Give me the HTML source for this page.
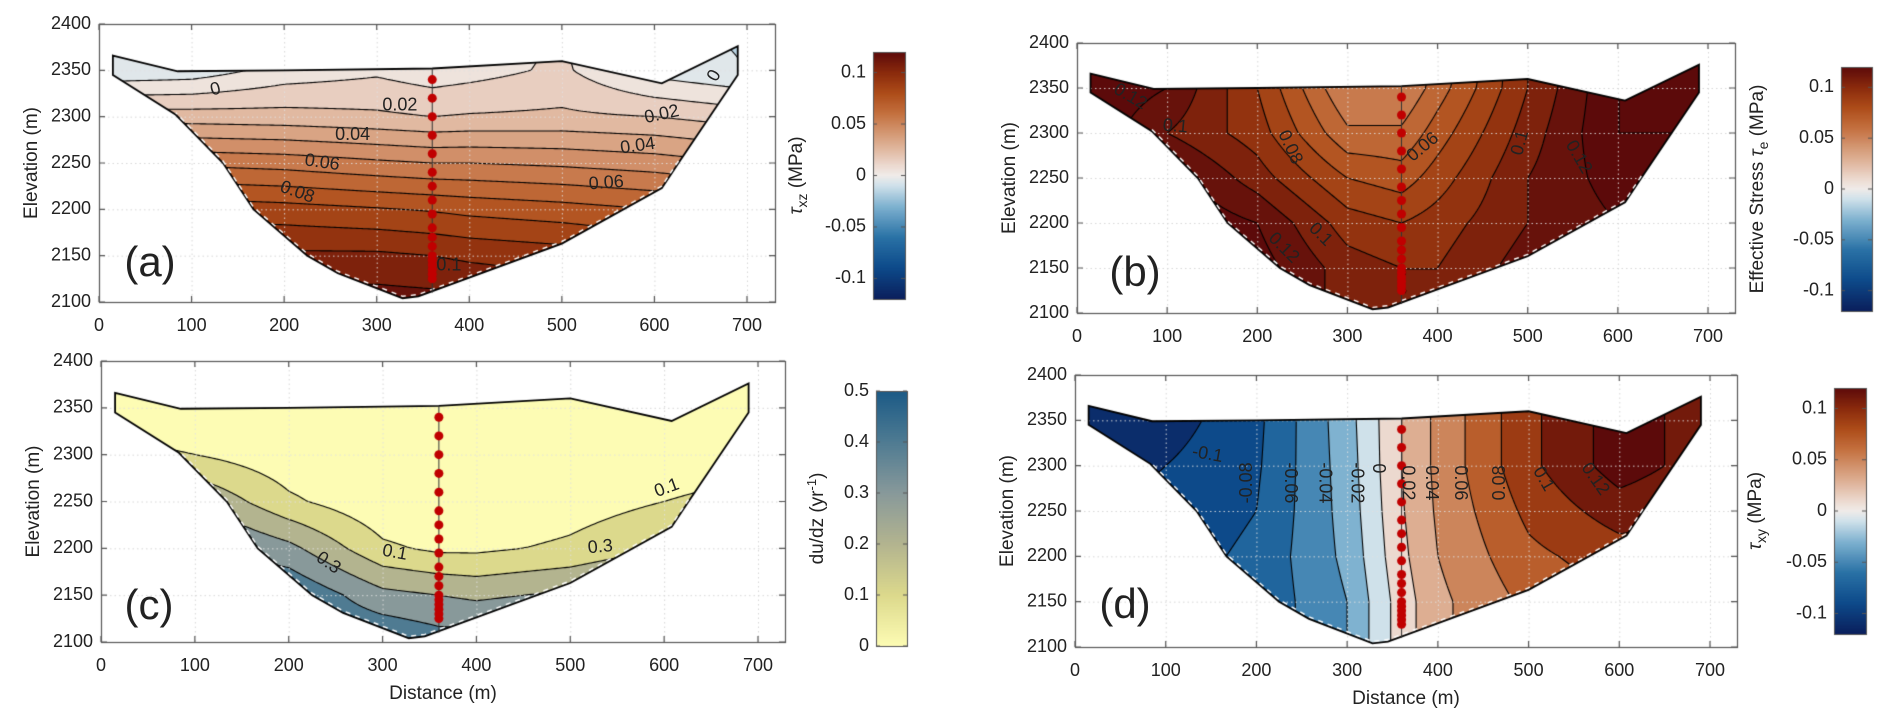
<!DOCTYPE html>
<html><head><meta charset="utf-8"><style>
html,body{margin:0;padding:0;background:#fff;}
#wrap{position:relative;width:1892px;height:723px;overflow:hidden;}
canvas,svg{position:absolute;left:0;top:0;}
text{font-family:"Liberation Sans",sans-serif;fill:#222;}
</style></head><body>
<div id="wrap">
<canvas id="cv" width="1892" height="723"></canvas>
<svg id="sv" width="1892" height="723"></svg>
</div>
<script>
// ---------- data ----------
const gridX = [0,100,200,300,360,400,500,600,700];
const gridZ = [2100,2150,2200,2250,2300,2350,2400];
const tauXZ = [
 [0.115,0.115,0.115,0.115,0.114,0.112,0.108,0.105,0.1],
 [0.102,0.102,0.102,0.102,0.1,0.098,0.095,0.09,0.085],
 [0.086,0.086,0.084,0.081,0.079,0.077,0.074,0.07,0.065],
 [0.06,0.058,0.056,0.052,0.05,0.05,0.048,0.045,0.04],
 [0.025,0.025,0.024,0.022,0.02,0.021,0.022,0.02,0.015],
 [-0.008,-0.006,0.004,0.008,0.004,0.006,0.012,-0.004,-0.01],
 [-0.01,-0.01,-0.005,0.005,0.002,0.004,0.01,-0.008,-0.012]];
const effStress = [
 [0.13,0.13,0.125,0.105,0.1,0.1,0.115,0.12,0.12],
 [0.13,0.13,0.125,0.105,0.1,0.1,0.115,0.12,0.12],
 [0.13,0.13,0.12,0.095,0.09,0.095,0.11,0.12,0.12],
 [0.13,0.125,0.105,0.08,0.075,0.085,0.11,0.125,0.13],
 [0.13,0.11,0.095,0.062,0.062,0.075,0.105,0.13,0.13],
 [0.13,0.12,0.09,0.05,0.05,0.065,0.1,0.13,0.13],
 [0.13,0.12,0.09,0.05,0.05,0.06,0.1,0.13,0.13]];
const dudz = [
 [0.5,0.5,0.5,0.5,0.45,0.45,0.47,0.5,0.5],
 [0.5,0.5,0.5,0.33,0.3,0.28,0.32,0.4,0.4],
 [0.4,0.45,0.33,0.12,0.08,0.08,0.12,0.2,0.3],
 [0.3,0.3,0.12,0.02,0,0,0.05,0.1,0.15],
 [0.15,0.1,0.03,0,0,0,0,0.02,0.05],
 [0,0,0,0,0,0,0,0,0],
 [0,0,0,0,0,0,0,0,0]];
const tauXY = [
 [-0.09,-0.09,-0.075,-0.04,0.01,0.035,0.065,0.08,0.08],
 [-0.09,-0.09,-0.075,-0.04,0.01,0.035,0.065,0.08,0.08],
 [-0.09,-0.09,-0.075,-0.035,0.015,0.04,0.075,0.09,0.09],
 [-0.1,-0.095,-0.08,-0.032,0.018,0.043,0.085,0.11,0.1],
 [-0.11,-0.1,-0.083,-0.03,0.02,0.045,0.095,0.13,0.11],
 [-0.12,-0.11,-0.085,-0.028,0.02,0.045,0.095,0.13,0.11],
 [-0.12,-0.11,-0.085,-0.028,0.02,0.045,0.095,0.13,0.11]];
const surfaceX = [15,85,200,360,500,608,690];
const surfaceZ = [2366,2349,2350,2352,2360,2336,2376];
const bedX = [690,626,608,500,345,328,258,225,167,134,83,15];
const bedZ = [2345,2250,2223,2163,2106,2104,2131,2150,2200,2250,2302,2345];
const boreholeX = 360;
const sensorZ = [2340,2320,2300,2280,2260,2240,2225,2210,2195,2180,2170,2160,2150,2145,2140,2135,2130,2125];
const xTicks = [0,100,200,300,400,500,600,700];
const yTicks = [2100,2150,2200,2250,2300,2350,2400];
const divTicks = [-0.1,-0.05,0,0.05,0.1];
const divTickLabels = ['-0.1','-0.05','0','0.05','0.1'];
const seqTicks = [0,0.1,0.2,0.3,0.4,0.5];
const seqTickLabels = ['0','0.1','0.2','0.3','0.4','0.5'];
const labelsA = [['0',126,2329,-15],['0.02',325,2312,0],['0.04',274,2280,0],['0.06',241,2250,8],['0.08',214,2218,20],['0.1',378,2139,0],['0.02',608,2302,-12],['0.04',582,2268,-8],['0.06',548,2228,-4],['0',665,2344,-60]];
const labelsB = [['0.12',59,2340,30],['0.1',109,2307,5],['0.08',236,2284,65],['0.06',384,2284,-40],['0.1',270,2187,45],['0.12',229,2172,45],['0.1',492,2289,-75],['0.12',556,2273,60]];
const labelsC = [['0.1',313,2195,10],['0.3',242,2184,35],['0.1',603,2264,-20],['0.3',532,2201,-5]];
const labelsD = [['-0.1',146,2312,10],['-0.08',190,2281,-90],['-0.06',237,2281,90],['-0.04',275,2281,90],['-0.02',310,2281,90],['0',334,2297,90],['0.02',366,2281,90],['0.04',392,2281,90],['0.06',424,2281,90],['0.08',469,2281,-90],['0.1',516,2285,60],['0.12',573,2285,55]];

// ---------- colormaps ----------
const divStops=[[-0.12,'#0a1f5c'],[-0.09,'#0d4a8a'],[-0.06,'#2a72a6'],[-0.03,'#7fb2d0'],[-0.01,'#cfe1ea'],[0,'#f0ece9'],[0.01,'#ecd9cf'],[0.03,'#ddae92'],[0.06,'#c4703f'],[0.08,'#ad4c19'],[0.1,'#8a2a0c'],[0.12,'#5c0a0a']];
const seqStops=[[0,'#fdfcb4'],[0.1,'#dcd98c'],[0.2,'#b3b48f'],[0.3,'#88999a'],[0.4,'#4f7b92'],[0.5,'#1b5a86']];
function hex(h){return [parseInt(h.substr(1,2),16),parseInt(h.substr(3,2),16),parseInt(h.substr(5,2),16)];}
function cmap(stops,v){
  if(v<=stops[0][0])return hex(stops[0][1]);
  for(let i=1;i<stops.length;i++){if(v<=stops[i][0]){const a=stops[i-1],b=stops[i];const t=(v-a[0])/(b[0]-a[0]);const ca=hex(a[1]),cb=hex(b[1]);return ca.map((c,k)=>Math.round(c+(cb[k]-c)*t));}}
  return hex(stops[stops.length-1][1]);
}
function interp(grid,x,z){
  let i=0;while(i<gridX.length-2&&x>gridX[i+1])i++;
  let j=0;while(j<gridZ.length-2&&z>gridZ[j+1])j++;
  let tx=(x-gridX[i])/(gridX[i+1]-gridX[i]);tx=Math.max(0,Math.min(1,tx));
  let tz=(z-gridZ[j])/(gridZ[j+1]-gridZ[j]);tz=Math.max(0,Math.min(1,tz));
  const a=grid[j][i],b=grid[j][i+1],c=grid[j+1][i],d=grid[j+1][i+1];
  return (a*(1-tx)+b*tx)*(1-tz)+(c*(1-tx)+d*tx)*tz;
}

// ---------- panels ----------
const panels=[
 {id:'a',L:99,R:775,T:24,B:302,sx:(747-99)/700,grid:tauXZ,stops:divStops,step:0.01,lvMin:-0.02,lvMax:0.13,mid:true,labels:labelsA,
  cb:{L:873,R:905,T:52,B:299,min:-0.12,max:0.12,ticks:divTicks,tl:divTickLabels,title:'xz',titleX:802,kind:'tau'},letter:'(a)',lx:150,ly:265,xlabel:false},
 {id:'b',L:1077,R:1735,T:43,B:313,sx:(1708-1077)/700,grid:effStress,stops:divStops,step:0.01,lvMin:0.04,lvMax:0.14,mid:true,labels:labelsB,
  cb:{L:1841,R:1872,T:67,B:311,min:-0.12,max:0.12,ticks:divTicks,tl:divTickLabels,title:'eff',titleX:1763,kind:'eff'},letter:'(b)',lx:1135,ly:275,xlabel:false},
 {id:'c',L:101,R:785,T:361,B:642,sx:(758-101)/700,grid:dudz,stops:seqStops,step:0.1,lvMin:0.1,lvMax:0.5,mid:false,labels:labelsC,
  cb:{L:876,R:907,T:391,B:646,min:0,max:0.5,ticks:seqTicks,tl:seqTickLabels,title:'du',titleX:823,kind:'du'},letter:'(c)',lx:149,ly:608,xlabel:true},
 {id:'d',L:1075,R:1737,T:375,B:647,sx:(1710-1075)/700,grid:tauXY,stops:divStops,step:0.02,lvMin:-0.12,lvMax:0.12,mid:true,labels:labelsD,
  cb:{L:1834,R:1866,T:388,B:634,min:-0.12,max:0.12,ticks:divTicks,tl:divTickLabels,title:'xy',titleX:1761,kind:'tau'},letter:'(d)',lx:1125,ly:607,xlabel:true}
];
const cv=document.getElementById('cv');const ctx=cv.getContext('2d');
const sv=document.getElementById('sv');const NS='http://www.w3.org/2000/svg';
function mk(tag,attrs,parent){const e=document.createElementNS(NS,tag);for(const k in attrs)e.setAttribute(k,attrs[k]);(parent||sv).appendChild(e);return e;}

panels.forEach(p=>{
  const sy=(p.B-p.T)/300;
  const X=x=>p.L+x*p.sx, Y=z=>p.B-(z-2100)*sy;
  const Xi=px=>(px-p.L)/p.sx, Zi=py=>2100+(p.B-py)/sy;
  const poly=new Path2D();
  surfaceX.forEach((x,i)=>{i?poly.lineTo(X(x),Y(surfaceZ[i])):poly.moveTo(X(x),Y(surfaceZ[i]));});
  bedX.forEach((x,i)=>poly.lineTo(X(x),Y(bedZ[i])));
  poly.closePath();
  const w=p.R-p.L,h=p.B-p.T;
  const off=document.createElement('canvas');off.width=w;off.height=h;const oc=off.getContext('2d');
  const img=oc.createImageData(w,h);
  for(let py=0;py<h;py++)for(let px=0;px<w;px++){
    const v=interp(p.grid,Xi(p.L+px+0.5),Zi(p.T+py+0.5));
    const lo=Math.floor(v/p.step+1e-9)*p.step;
    const c=cmap(p.stops,p.mid?lo+p.step/2:lo);
    const k=(py*w+px)*4;img.data[k]=c[0];img.data[k+1]=c[1];img.data[k+2]=c[2];img.data[k+3]=255;
  }
  oc.putImageData(img,0,0);
  ctx.save();ctx.clip(poly);ctx.drawImage(off,p.L,p.T);
  const st=2,nx=Math.ceil(w/st)+1,ny=Math.ceil(h/st)+1;const F=[];
  for(let j=0;j<ny;j++){F[j]=[];for(let i=0;i<nx;i++)F[j][i]=interp(p.grid,Xi(p.L+i*st),Zi(p.T+j*st));}
  ctx.strokeStyle='#000';ctx.lineWidth=1.1;ctx.beginPath();
  for(let lv=p.lvMin;lv<=p.lvMax+1e-9;lv+=p.step){
    for(let j=0;j<ny-1;j++)for(let i=0;i<nx-1;i++){
      const v=[F[j][i],F[j][i+1],F[j+1][i+1],F[j+1][i]];
      const pts=[[i,j],[i+1,j],[i+1,j+1],[i,j+1]];const cr=[];
      for(let e=0;e<4;e++){const a=v[e],b=v[(e+1)%4];if((a<lv)!==(b<lv)){const t=(lv-a)/(b-a);const A=pts[e],B=pts[(e+1)%4];cr.push([p.L+(A[0]+(B[0]-A[0])*t)*st,p.T+(A[1]+(B[1]-A[1])*t)*st]);}}
      if(cr.length>=2){ctx.moveTo(cr[0][0],cr[0][1]);ctx.lineTo(cr[1][0],cr[1][1]);}
      if(cr.length===4){ctx.moveTo(cr[2][0],cr[2][1]);ctx.lineTo(cr[3][0],cr[3][1]);}
    }
  }
  ctx.stroke();
  ctx.strokeStyle='rgba(225,225,225,0.9)';ctx.lineWidth=1;ctx.setLineDash([1.5,3]);ctx.beginPath();
  xTicks.forEach(t=>{ctx.moveTo(X(t)+0.5,p.T);ctx.lineTo(X(t)+0.5,p.B);});
  yTicks.forEach(t=>{ctx.moveTo(p.L,Y(t)+0.5);ctx.lineTo(p.R,Y(t)+0.5);});
  ctx.stroke();ctx.setLineDash([]);
  ctx.restore();
  ctx.save();ctx.strokeStyle='#d6d6d6';ctx.setLineDash([1.5,3]);ctx.beginPath();
  const outside=new Path2D();outside.rect(p.L,p.T,w,h);outside.addPath(poly);
  ctx.clip(outside,'evenodd');
  xTicks.forEach(t=>{ctx.moveTo(X(t)+0.5,p.T);ctx.lineTo(X(t)+0.5,p.B);});
  yTicks.forEach(t=>{ctx.moveTo(p.L,Y(t)+0.5);ctx.lineTo(p.R,Y(t)+0.5);});
  ctx.stroke();ctx.restore();
  ctx.strokeStyle='#000';ctx.lineWidth=1.8;ctx.stroke(poly);
  ctx.strokeStyle='#fff';ctx.lineWidth=1.4;ctx.setLineDash([5,5]);ctx.beginPath();
  bedX.slice(1,-1).forEach((x,i)=>{const yy=Y(bedZ[i+1])-2;i?ctx.lineTo(X(x),yy):ctx.moveTo(X(x),yy);});
  ctx.stroke();ctx.setLineDash([]);
  ctx.strokeStyle='#333';ctx.lineWidth=1;ctx.beginPath();ctx.moveTo(X(boreholeX),Y(2352));ctx.lineTo(X(boreholeX),Y(2110));ctx.stroke();
  ctx.fillStyle='#c00000';
  sensorZ.forEach(z=>{ctx.beginPath();ctx.arc(X(boreholeX),Y(z),4.5,0,Math.PI*2);ctx.fill();});
  ctx.strokeStyle='#555';ctx.lineWidth=1.2;ctx.strokeRect(p.L+0.5,p.T+0.5,w,h);
  ctx.beginPath();
  xTicks.forEach(t=>{ctx.moveTo(X(t),p.B);ctx.lineTo(X(t),p.B-6);ctx.moveTo(X(t),p.T);ctx.lineTo(X(t),p.T+6);});
  yTicks.forEach(t=>{ctx.moveTo(p.L,Y(t));ctx.lineTo(p.L+6,Y(t));ctx.moveTo(p.R,Y(t));ctx.lineTo(p.R-6,Y(t));});
  ctx.stroke();
  const g=mk('g',{});
  
  
  xTicks.forEach(t=>{const e=mk('text',{x:X(t),y:p.B+24,'font-size':18,'text-anchor':'middle','dominant-baseline':'middle'},g);e.textContent=t;
    
    });
  yTicks.forEach(t=>{const e=mk('text',{x:p.L-8,y:Y(t),'font-size':18,'text-anchor':'end','dominant-baseline':'middle'},g);e.textContent=t;
    
    });
  const yl=mk('text',{x:0,y:0,'font-size':19,'text-anchor':'middle',transform:`translate(${p.L-62},${(p.T+p.B)/2}) rotate(-90)`},g);yl.textContent='Elevation (m)';
  
  
  if(p.xlabel){const xl=mk('text',{x:(p.L+p.R)/2,y:p.B+52,'font-size':19,'text-anchor':'middle','dominant-baseline':'middle'},g);xl.textContent='Distance (m)';
    
    }
  const lt=mk('text',{x:p.lx,y:p.ly,'font-size':42,'text-anchor':'middle','dominant-baseline':'middle',fill:'#111'},g);lt.textContent=p.letter;
  
  
  p.labels.forEach(l=>{const e=mk('text',{x:0,y:0,'font-size':18,'text-anchor':'middle','dominant-baseline':'middle',transform:`translate(${X(l[1])},${Y(l[2])}) rotate(${l[3]})`,fill:'#111'},g);e.textContent=l[0];
    
    });
  const cb=p.cb;const cbh=cb.B-cb.T;
  for(let yy=0;yy<cbh;yy++){const v=cb.max-(yy+0.5)/cbh*(cb.max-cb.min);const c=cmap(p.stops,v);ctx.fillStyle=`rgb(${c[0]},${c[1]},${c[2]})`;ctx.fillRect(cb.L,cb.T+yy,cb.R-cb.L,1);}
  ctx.strokeStyle='#555';ctx.lineWidth=1;ctx.strokeRect(cb.L+0.5,cb.T+0.5,cb.R-cb.L,cbh);
  const CY=v=>cb.B-(v-cb.min)/(cb.max-cb.min)*cbh;
  ctx.beginPath();cb.ticks.forEach(t=>{ctx.moveTo(cb.L,CY(t));ctx.lineTo(cb.L+4,CY(t));ctx.moveTo(cb.R,CY(t));ctx.lineTo(cb.R-4,CY(t));});ctx.stroke();
  cb.ticks.forEach((t,i)=>{const e=mk('text',{x:cb.L-7,y:CY(t),'font-size':18,'text-anchor':'end','dominant-baseline':'middle'},g);e.textContent=cb.tl[i];
    
    });
  const tt=mk('text',{x:0,y:0,'font-size':19,'text-anchor':'middle',transform:`translate(${cb.titleX},${(cb.T+cb.B)/2}) rotate(-90)`},g);
  
  
  if(cb.kind==='tau'){tt.innerHTML=`<tspan font-style="italic">τ</tspan><tspan font-size="14" dy="5">${cb.title}</tspan><tspan dy="-5"> (MPa)</tspan>`;}
  else if(cb.kind==='eff'){tt.innerHTML=`Effective Stress <tspan font-style="italic">τ</tspan><tspan font-size="14" dy="5">e</tspan><tspan dy="-5"> (MPa)</tspan>`;}
  else {tt.innerHTML=`du/dz (yr<tspan font-size="13" dy="-7">-1</tspan><tspan dy="7">)</tspan>`;}
});
</script>
</body></html>
